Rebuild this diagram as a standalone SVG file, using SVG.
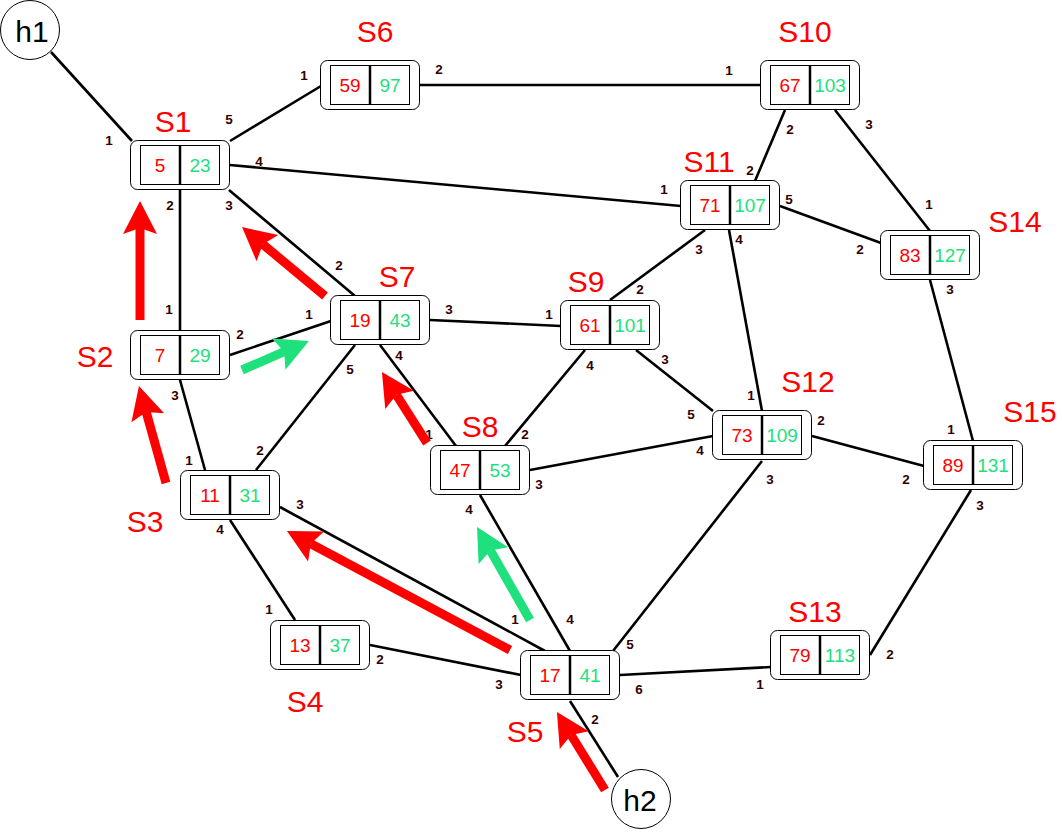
<svg xmlns="http://www.w3.org/2000/svg" width="1062" height="832" viewBox="0 0 1062 832">
<defs>
<style>
.box{fill:#fff;stroke:#000;stroke-width:1}
.cell{fill:none;stroke:#000;stroke-width:1}
.dv{stroke:#000;stroke-width:2.5}
.a{fill:#f00;font-family:"Liberation Sans",Arial,sans-serif;font-size:19px;text-anchor:middle}
.b{fill:#1ee07c;font-family:"Liberation Sans",Arial,sans-serif;font-size:19px;text-anchor:middle}
.lbl{fill:#f00;font-family:"Liberation Sans",Arial,sans-serif;font-size:30px;text-anchor:middle}
.host{fill:#fff;stroke:#000;stroke-width:1}
.ht{fill:#000;font-family:"Liberation Sans",Arial,sans-serif;font-size:30px;text-anchor:middle}
.lk{stroke:#000;stroke-width:2.6;fill:none}
.pt{fill:#330000;font-family:"Liberation Sans",Arial,sans-serif;font-size:13.5px;font-weight:bold;text-anchor:middle}
.ar{stroke:#f00;stroke-width:9;fill:none;marker-end:url(#hr)}
.ag{stroke:#1ee07c;stroke-width:9;fill:none;marker-end:url(#hg)}
</style>
<marker id="hr" markerUnits="userSpaceOnUse" viewBox="0 -18 36 36" markerWidth="36" markerHeight="36" refX="6" refY="0" orient="auto">
<path d="M0,-17 L33,0 L0,17 L6,0 Z" fill="#f00"/>
</marker>
<marker id="hg" markerUnits="userSpaceOnUse" viewBox="0 -18 36 36" markerWidth="36" markerHeight="36" refX="6" refY="0" orient="auto">
<path d="M0,-17 L33,0 L0,17 L6,0 Z" fill="#1ee07c"/>
</marker>
</defs>
<rect width="1062" height="832" fill="#fff"/>
<g id="connectors">
<line class="lk" x1="51" y1="52" x2="132" y2="141"/>
<line class="lk" x1="230" y1="141" x2="321" y2="86"/>
<line class="lk" x1="230" y1="165" x2="681" y2="206"/>
<line class="lk" x1="229" y1="190" x2="355" y2="296"/>
<line class="lk" x1="180" y1="190" x2="180" y2="330"/>
<line class="lk" x1="230" y1="355" x2="331" y2="321"/>
<line class="lk" x1="180" y1="380" x2="205" y2="470"/>
<line class="lk" x1="256" y1="470" x2="355" y2="345"/>
<line class="lk" x1="280" y1="507" x2="545" y2="651"/>
<line class="lk" x1="230" y1="520" x2="295" y2="620"/>
<line class="lk" x1="370" y1="645" x2="521" y2="675"/>
<line class="lk" x1="430" y1="320" x2="561" y2="326"/>
<line class="lk" x1="380" y1="345" x2="456" y2="446"/>
<line class="lk" x1="505" y1="446" x2="585" y2="350"/>
<line class="lk" x1="530" y1="470" x2="713" y2="436"/>
<line class="lk" x1="480" y1="495" x2="570" y2="651"/>
<line class="lk" x1="610" y1="300" x2="705" y2="230"/>
<line class="lk" x1="636" y1="350" x2="713" y2="411"/>
<line class="lk" x1="729" y1="230" x2="762" y2="411"/>
<line class="lk" x1="755" y1="181" x2="785" y2="110"/>
<line class="lk" x1="780" y1="206" x2="881" y2="243"/>
<line class="lk" x1="835" y1="110" x2="930" y2="231"/>
<line class="lk" x1="420" y1="85" x2="761" y2="85"/>
<line class="lk" x1="930" y1="280" x2="973" y2="441"/>
<line class="lk" x1="812" y1="436" x2="924" y2="466"/>
<line class="lk" x1="762" y1="461" x2="613" y2="651"/>
<line class="lk" x1="620" y1="675" x2="771" y2="667"/>
<line class="lk" x1="870" y1="655" x2="971" y2="490"/>
<line class="lk" x1="570" y1="701" x2="618" y2="777"/>
</g>
<g id="h1"><circle class="host" cx="30" cy="30" r="29.5"/><text class="ht" x="32" y="42">h1</text></g>
<g id="h2"><circle class="host" cx="641" cy="799" r="29.5"/><text class="ht" x="640" y="811">h2</text></g>
<g id="S1" transform="translate(130,140)"><rect class="box" x="0.5" y="0.5" width="99" height="49" rx="7"/><rect class="cell" x="10.5" y="5.5" width="79" height="39"/><line class="dv" x1="50" y1="5.5" x2="50" y2="44.5"/><text class="a" x="30" y="32">5</text><text class="b" x="70" y="32">23</text><text class="lbl" x="43" y="-8">S1</text></g>
<g id="S2" transform="translate(130,330)"><rect class="box" x="0.5" y="0.5" width="99" height="49" rx="7"/><rect class="cell" x="10.5" y="5.5" width="79" height="39"/><line class="dv" x1="50" y1="5.5" x2="50" y2="44.5"/><text class="a" x="30" y="32">7</text><text class="b" x="70" y="32">29</text><text class="lbl" x="-35" y="37">S2</text></g>
<g id="S3" transform="translate(180,470)"><rect class="box" x="0.5" y="0.5" width="99" height="49" rx="7"/><rect class="cell" x="10.5" y="5.5" width="79" height="39"/><line class="dv" x1="50" y1="5.5" x2="50" y2="44.5"/><text class="a" x="30" y="32">11</text><text class="b" x="70" y="32">31</text><text class="lbl" x="-35" y="62">S3</text></g>
<g id="S4" transform="translate(270,620)"><rect class="box" x="0.5" y="0.5" width="99" height="49" rx="7"/><rect class="cell" x="10.5" y="5.5" width="79" height="39"/><line class="dv" x1="50" y1="5.5" x2="50" y2="44.5"/><text class="a" x="30" y="32">13</text><text class="b" x="70" y="32">37</text><text class="lbl" x="35" y="92">S4</text></g>
<g id="S5" transform="translate(520,650)"><rect class="box" x="0.5" y="0.5" width="99" height="49" rx="7"/><rect class="cell" x="10.5" y="5.5" width="79" height="39"/><line class="dv" x1="50" y1="5.5" x2="50" y2="44.5"/><text class="a" x="30" y="32">17</text><text class="b" x="70" y="32">41</text><text class="lbl" x="5" y="92">S5</text></g>
<g id="S6" transform="translate(320,60)"><rect class="box" x="0.5" y="0.5" width="99" height="49" rx="7"/><rect class="cell" x="10.5" y="5.5" width="79" height="39"/><line class="dv" x1="50" y1="5.5" x2="50" y2="44.5"/><text class="a" x="30" y="32">59</text><text class="b" x="70" y="32">97</text><text class="lbl" x="55" y="-18">S6</text></g>
<g id="S7" transform="translate(330,295)"><rect class="box" x="0.5" y="0.5" width="99" height="49" rx="7"/><rect class="cell" x="10.5" y="5.5" width="79" height="39"/><line class="dv" x1="50" y1="5.5" x2="50" y2="44.5"/><text class="a" x="30" y="32">19</text><text class="b" x="70" y="32">43</text><text class="lbl" x="67" y="-8">S7</text></g>
<g id="S8" transform="translate(430,445)"><rect class="box" x="0.5" y="0.5" width="99" height="49" rx="7"/><rect class="cell" x="10.5" y="5.5" width="79" height="39"/><line class="dv" x1="50" y1="5.5" x2="50" y2="44.5"/><text class="a" x="30" y="32">47</text><text class="b" x="70" y="32">53</text><text class="lbl" x="50" y="-8">S8</text></g>
<g id="S9" transform="translate(560,300)"><rect class="box" x="0.5" y="0.5" width="99" height="49" rx="7"/><rect class="cell" x="10.5" y="5.5" width="79" height="39"/><line class="dv" x1="50" y1="5.5" x2="50" y2="44.5"/><text class="a" x="30" y="32">61</text><text class="b" x="70" y="32">101</text><text class="lbl" x="26" y="-8">S9</text></g>
<g id="S10" transform="translate(760,60)"><rect class="box" x="0.5" y="0.5" width="99" height="49" rx="7"/><rect class="cell" x="10.5" y="5.5" width="79" height="39"/><line class="dv" x1="50" y1="5.5" x2="50" y2="44.5"/><text class="a" x="30" y="32">67</text><text class="b" x="70" y="32">103</text><text class="lbl" x="45" y="-18">S10</text></g>
<g id="S11" transform="translate(680,180)"><rect class="box" x="0.5" y="0.5" width="99" height="49" rx="7"/><rect class="cell" x="10.5" y="5.5" width="79" height="39"/><line class="dv" x1="50" y1="5.5" x2="50" y2="44.5"/><text class="a" x="30" y="32">71</text><text class="b" x="70" y="32">107</text><text class="lbl" x="29" y="-8">S11</text></g>
<g id="S12" transform="translate(712,410)"><rect class="box" x="0.5" y="0.5" width="99" height="49" rx="7"/><rect class="cell" x="10.5" y="5.5" width="79" height="39"/><line class="dv" x1="50" y1="5.5" x2="50" y2="44.5"/><text class="a" x="30" y="32">73</text><text class="b" x="70" y="32">109</text><text class="lbl" x="96" y="-18">S12</text></g>
<g id="S13" transform="translate(770,630)"><rect class="box" x="0.5" y="0.5" width="99" height="49" rx="7"/><rect class="cell" x="10.5" y="5.5" width="79" height="39"/><line class="dv" x1="50" y1="5.5" x2="50" y2="44.5"/><text class="a" x="30" y="32">79</text><text class="b" x="70" y="32">113</text><text class="lbl" x="45" y="-8">S13</text></g>
<g id="S14" transform="translate(880,230)"><rect class="box" x="0.5" y="0.5" width="99" height="49" rx="7"/><rect class="cell" x="10.5" y="5.5" width="79" height="39"/><line class="dv" x1="50" y1="5.5" x2="50" y2="44.5"/><text class="a" x="30" y="32">83</text><text class="b" x="70" y="32">127</text><text class="lbl" x="135" y="2">S14</text></g>
<g id="S15" transform="translate(923,440)"><rect class="box" x="0.5" y="0.5" width="99" height="49" rx="7"/><rect class="cell" x="10.5" y="5.5" width="79" height="39"/><line class="dv" x1="50" y1="5.5" x2="50" y2="44.5"/><text class="a" x="30" y="32">89</text><text class="b" x="70" y="32">131</text><text class="lbl" x="107" y="-18">S15</text></g>
<g id="ports">
<text class="pt" x="109" y="145">1</text>
<text class="pt" x="229" y="124">5</text>
<text class="pt" x="304" y="80">1</text>
<text class="pt" x="439" y="74">2</text>
<text class="pt" x="259" y="166">4</text>
<text class="pt" x="170" y="210">2</text>
<text class="pt" x="229" y="210">3</text>
<text class="pt" x="339" y="270">2</text>
<text class="pt" x="729" y="75">1</text>
<text class="pt" x="790" y="134">2</text>
<text class="pt" x="869" y="129">3</text>
<text class="pt" x="750" y="175">2</text>
<text class="pt" x="664" y="194">1</text>
<text class="pt" x="789" y="204">5</text>
<text class="pt" x="699" y="254">3</text>
<text class="pt" x="739" y="244">4</text>
<text class="pt" x="929" y="209">1</text>
<text class="pt" x="860" y="254">2</text>
<text class="pt" x="950" y="294">3</text>
<text class="pt" x="640" y="294">2</text>
<text class="pt" x="169" y="314">1</text>
<text class="pt" x="240" y="339">2</text>
<text class="pt" x="309" y="319">1</text>
<text class="pt" x="449" y="314">3</text>
<text class="pt" x="549" y="319">1</text>
<text class="pt" x="175" y="400">3</text>
<text class="pt" x="350" y="374">5</text>
<text class="pt" x="399" y="360">4</text>
<text class="pt" x="429" y="439">1</text>
<text class="pt" x="525" y="439">2</text>
<text class="pt" x="189" y="465">1</text>
<text class="pt" x="260" y="455">2</text>
<text class="pt" x="539" y="489">3</text>
<text class="pt" x="300" y="509">3</text>
<text class="pt" x="220" y="534">4</text>
<text class="pt" x="469" y="514">4</text>
<text class="pt" x="590" y="370">4</text>
<text class="pt" x="665" y="364">3</text>
<text class="pt" x="751" y="400">1</text>
<text class="pt" x="691" y="419">5</text>
<text class="pt" x="700" y="455">4</text>
<text class="pt" x="821" y="425">2</text>
<text class="pt" x="770" y="484">3</text>
<text class="pt" x="951" y="434">1</text>
<text class="pt" x="906" y="484">2</text>
<text class="pt" x="980" y="510">3</text>
<text class="pt" x="269" y="614">1</text>
<text class="pt" x="380" y="664">2</text>
<text class="pt" x="515" y="624">1</text>
<text class="pt" x="570" y="624">4</text>
<text class="pt" x="630" y="649">5</text>
<text class="pt" x="499" y="689">3</text>
<text class="pt" x="639" y="694">6</text>
<text class="pt" x="595" y="724">2</text>
<text class="pt" x="760" y="689">1</text>
<text class="pt" x="890" y="659">2</text>
</g>
<g id="arrows">
<line class="ar" x1="140" y1="320" x2="140" y2="228"/>
<line class="ar" x1="325" y1="296" x2="262.8" y2="244.3"/>
<line class="ag" x1="242" y1="370" x2="284.2" y2="351.7"/>
<line class="ar" x1="166" y1="483" x2="146.2" y2="412"/>
<line class="ar" x1="427" y1="443" x2="396.4" y2="394.8"/>
<line class="ar" x1="510" y1="650" x2="310.8" y2="543.7"/>
<line class="ag" x1="530" y1="620" x2="490.4" y2="550.5"/>
<line class="ar" x1="605" y1="790" x2="571.1" y2="735"/>
</g>
</svg>
